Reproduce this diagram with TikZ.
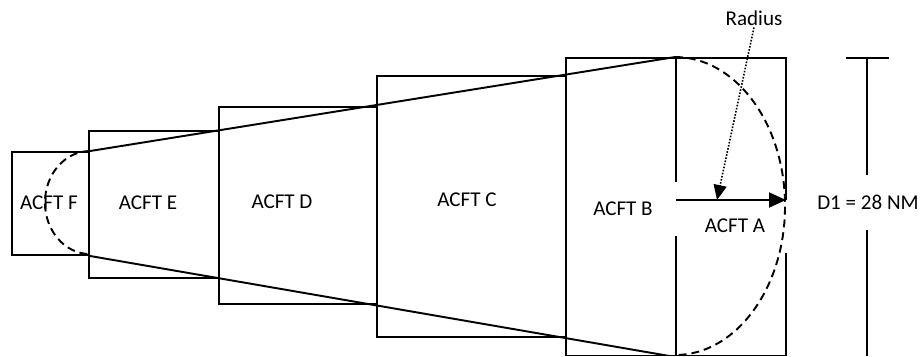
\documentclass[tikz,border=0pt]{standalone}
\usepackage{fontspec}
\setmainfont{Carlito}
\usetikzlibrary{arrows.meta,fit}

\begin{document}
\begin{tikzpicture}[x=0.02cm,y=-0.02cm,
  acft/.style={draw,line width=1.1pt,inner sep=0pt,fit={#1}},
  lbl/.style={font=\fontsize{12pt}{14pt}\selectfont,inner sep=1pt},
  blank/.style={lbl,fill=white},
  edge/.style={line width=1.1pt},
  rim/.style={line width=1.1pt,dash pattern=on 4.5pt off 2.8pt},
  fl/.style={-{Triangle[length=3.4mm,width=3mm]},line width=1.1pt},
  dfl/.style={-{Triangle[length=3mm,width=2.6mm]},line width=0.9pt,dash pattern=on 0.9pt off 0.9pt}]

  \useasboundingbox (0,0) rectangle (921,356);
  \clip (0,0) rectangle (921,355.3);

  % aircraft blocks
  \node[acft={(12,152)(89,255)}]  (boxF) {};
  \node[acft={(89,131)(219,278)}] (boxE) {};
  \node[acft={(219,107)(377,304)}] (boxD) {};
  \node[acft={(377,76)(566,337)}] (boxC) {};
  \node[acft={(566,58)(676,356)}] (boxB) {};
  \node[acft={(676,58)(786,356)}] (boxA) {};

  % dimension
  \coordinate (dimT) at (867,58);
  \coordinate (dimB) at (867,360);
  \coordinate (tickL) at (846,58);
  \coordinate (tickR) at (889,58);
  \draw[edge] (dimT) -- (dimB);
  \draw[edge] (tickL) -- (tickR);

  % labels
  \node[lbl] (labF) at (49,203) {ACFT F};
  \node[lbl] (labE) at (148,203) {ACFT E};
  \node[lbl] (labD) at (282,202) {ACFT D};
  \node[lbl] (labC) at (467,200) {ACFT C};
  \node[blank,minimum width=2.2cm,minimum height=1.08cm] (labB) at (623,209) {ACFT B};
  \node[blank,minimum width=2.2cm,minimum height=1.06cm] (labA) at (735,226) {ACFT A};
  \node[blank,minimum width=2.1cm,minimum height=1.1cm] (labD1) at (868,202) {D1 = 28 NM};
  \node[lbl] (rad) at (754,18) {Radius};

  % coverage outline
  \draw[edge] (boxF.north east) -- (boxA.north west);
  \draw[edge] (boxF.south east) -- (boxA.south west);
  \draw[rim] (boxF.north east) arc[start angle=-90,end angle=-270,x radius=45,y radius=51.5];
  \draw[rim] (boxA.north west) arc[start angle=-90,end angle=90,x radius=110,y radius=149];

  % radius
  \coordinate (ctr) at (676,200);
  \coordinate (edgeA) at (786,200);
  \coordinate (tipR) at (717,200);
  \draw[fl] (ctr) -- (edgeA);
  \draw[dfl] (rad.south) -- (tipR);
\end{tikzpicture}
\end{document}
